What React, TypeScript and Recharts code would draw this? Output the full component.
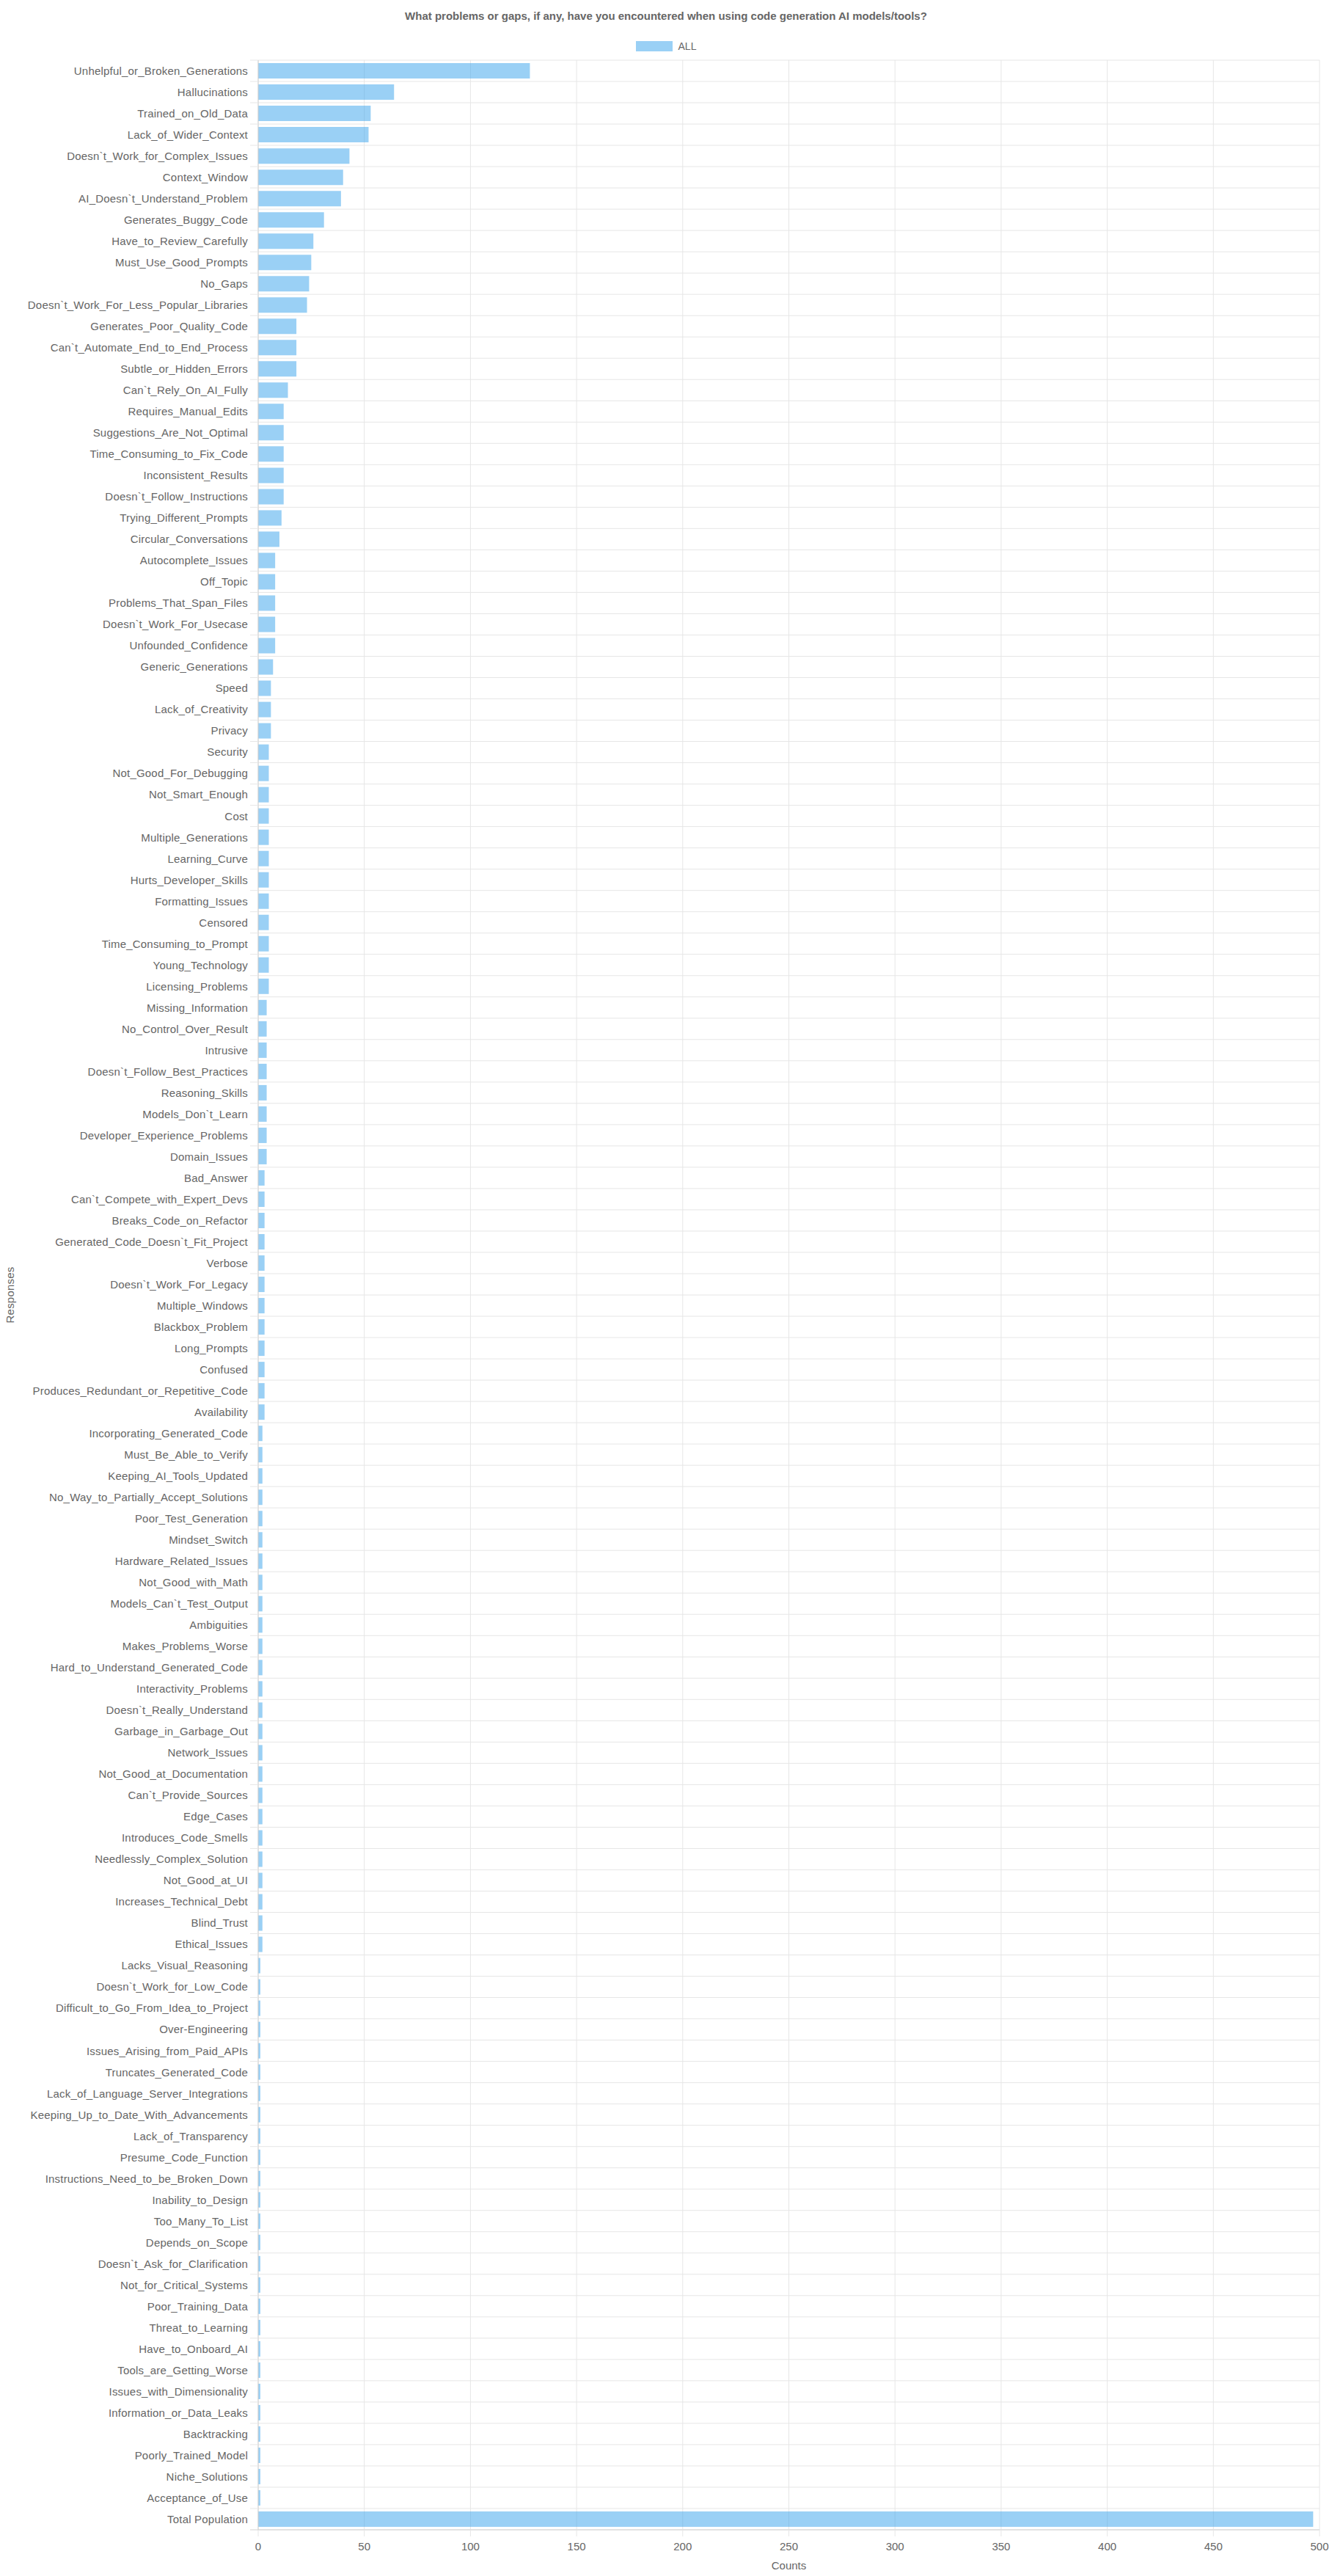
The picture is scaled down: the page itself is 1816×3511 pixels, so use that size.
import React from "react";
import {
  Bar,
  BarChart,
  CartesianGrid,
  Legend,
  XAxis,
  YAxis
} from "recharts";

const responses = [
  "Unhelpful_or_Broken_Generations",
  "Hallucinations",
  "Trained_on_Old_Data",
  "Lack_of_Wider_Context",
  "Doesn`t_Work_for_Complex_Issues",
  "Context_Window",
  "AI_Doesn`t_Understand_Problem",
  "Generates_Buggy_Code",
  "Have_to_Review_Carefully",
  "Must_Use_Good_Prompts",
  "No_Gaps",
  "Doesn`t_Work_For_Less_Popular_Libraries",
  "Generates_Poor_Quality_Code",
  "Can`t_Automate_End_to_End_Process",
  "Subtle_or_Hidden_Errors",
  "Can`t_Rely_On_AI_Fully",
  "Requires_Manual_Edits",
  "Suggestions_Are_Not_Optimal",
  "Time_Consuming_to_Fix_Code",
  "Inconsistent_Results",
  "Doesn`t_Follow_Instructions",
  "Trying_Different_Prompts",
  "Circular_Conversations",
  "Autocomplete_Issues",
  "Off_Topic",
  "Problems_That_Span_Files",
  "Doesn`t_Work_For_Usecase",
  "Unfounded_Confidence",
  "Generic_Generations",
  "Speed",
  "Lack_of_Creativity",
  "Privacy",
  "Security",
  "Not_Good_For_Debugging",
  "Not_Smart_Enough",
  "Cost",
  "Multiple_Generations",
  "Learning_Curve",
  "Hurts_Developer_Skills",
  "Formatting_Issues",
  "Censored",
  "Time_Consuming_to_Prompt",
  "Young_Technology",
  "Licensing_Problems",
  "Missing_Information",
  "No_Control_Over_Result",
  "Intrusive",
  "Doesn`t_Follow_Best_Practices",
  "Reasoning_Skills",
  "Models_Don`t_Learn",
  "Developer_Experience_Problems",
  "Domain_Issues",
  "Bad_Answer",
  "Can`t_Compete_with_Expert_Devs",
  "Breaks_Code_on_Refactor",
  "Generated_Code_Doesn`t_Fit_Project",
  "Verbose",
  "Doesn`t_Work_For_Legacy",
  "Multiple_Windows",
  "Blackbox_Problem",
  "Long_Prompts",
  "Confused",
  "Produces_Redundant_or_Repetitive_Code",
  "Availability",
  "Incorporating_Generated_Code",
  "Must_Be_Able_to_Verify",
  "Keeping_AI_Tools_Updated",
  "No_Way_to_Partially_Accept_Solutions",
  "Poor_Test_Generation",
  "Mindset_Switch",
  "Hardware_Related_Issues",
  "Not_Good_with_Math",
  "Models_Can`t_Test_Output",
  "Ambiguities",
  "Makes_Problems_Worse",
  "Hard_to_Understand_Generated_Code",
  "Interactivity_Problems",
  "Doesn`t_Really_Understand",
  "Garbage_in_Garbage_Out",
  "Network_Issues",
  "Not_Good_at_Documentation",
  "Can`t_Provide_Sources",
  "Edge_Cases",
  "Introduces_Code_Smells",
  "Needlessly_Complex_Solution",
  "Not_Good_at_UI",
  "Increases_Technical_Debt",
  "Blind_Trust",
  "Ethical_Issues",
  "Lacks_Visual_Reasoning",
  "Doesn`t_Work_for_Low_Code",
  "Difficult_to_Go_From_Idea_to_Project",
  "Over-Engineering",
  "Issues_Arising_from_Paid_APIs",
  "Truncates_Generated_Code",
  "Lack_of_Language_Server_Integrations",
  "Keeping_Up_to_Date_With_Advancements",
  "Lack_of_Transparency",
  "Presume_Code_Function",
  "Instructions_Need_to_be_Broken_Down",
  "Inability_to_Design",
  "Too_Many_To_List",
  "Depends_on_Scope",
  "Doesn`t_Ask_for_Clarification",
  "Not_for_Critical_Systems",
  "Poor_Training_Data",
  "Threat_to_Learning",
  "Have_to_Onboard_AI",
  "Tools_are_Getting_Worse",
  "Issues_with_Dimensionality",
  "Information_or_Data_Leaks",
  "Backtracking",
  "Poorly_Trained_Model",
  "Niche_Solutions",
  "Acceptance_of_Use",
  "Total Population"
];

const counts = [
  128, 64, 53, 52, 43, 40, 39, 31, 26, 25,
  24, 23, 18, 18, 18, 14, 12, 12, 12, 12,
  12, 11, 10, 8, 8, 8, 8, 8, 7, 6,
  6, 6, 5, 5, 5, 5, 5, 5, 5, 5,
  5, 5, 5, 5, 4, 4, 4, 4, 4, 4,
  4, 4, 3, 3, 3, 3, 3, 3, 3, 3,
  3, 3, 3, 3, 2, 2, 2, 2, 2, 2,
  2, 2, 2, 2, 2, 2, 2, 2, 2, 2,
  2, 2, 2, 2, 2, 2, 2, 2, 2, 1,
  1, 1, 1, 1, 1, 1, 1, 1, 1, 1,
  1, 1, 1, 1, 1, 1, 1, 1, 1, 1,
  1, 1, 1, 1, 1, 497
];

const countTicks = [0, 50, 100, 150, 200, 250, 300, 350, 400, 450, 500];

const rows = responses.map((response, i) => ({ response, ALL: counts[i] }));

const FONT = '"Liberation Sans", Arial, Helvetica, sans-serif';
const TEXT = "#666";
const GRID = "#e6e6e6";
const BORDER = "#d2d2d2";
const BLUE = "#36a2eb";

const W = 1816;
const H = 3511;

// chart.js style grid: horizontal lines sit between categories, not at them
const boundaryLines = ({ offset }: any) => {
  const n = responses.length;
  const lines: number[] = [];
  for (let i = 0; i <= n; i++) lines.push(offset.top + (offset.height * i) / n);
  return lines;
};

function ResponseTick(props: any) {
  const { x, y, payload, index } = props;
  const half = payload.offset ?? 0;
  const last = index === responses.length - 1;
  return (
    <g>
      <line x1={x + 3} x2={x + 14} y1={y - half} y2={y - half} stroke={GRID} />
      {last && <line x1={x + 3} x2={x + 14} y1={y + half} y2={y + half} stroke={BORDER} />}
      <text
        x={x}
        y={y}
        dy="0.36em"
        textAnchor="end"
        fill={TEXT}
        fontSize={15}
        letterSpacing={0.2}
        fontFamily={FONT}
      >
        {payload.value}
      </text>
    </g>
  );
}

function ResponsesLabel({ viewBox }: any) {
  const cx = viewBox.x + 13;
  const cy = viewBox.y + viewBox.height / 2;
  return (
    <text
      x={cx}
      y={cy}
      transform={`rotate(-90 ${cx} ${cy})`}
      textAnchor="middle"
      dominantBaseline="central"
      fill={TEXT}
      fontSize={15}
      letterSpacing={0.2}
      fontFamily={FONT}
    >
      Responses
    </text>
  );
}

function LegendBox({ payload }: any) {
  return (
    <div style={{ display: "flex", justifyContent: "center", alignItems: "center", gap: 8 }}>
      {(payload || []).map((item: any) => (
        <div key={item.value} style={{ display: "flex", alignItems: "center", gap: 8 }}>
          <span
            style={{
              width: 50,
              height: 14,
              background: "rgba(54,162,235,0.5)",
              display: "inline-block"
            }}
          />
          <span style={{ color: TEXT, fontSize: 14, fontFamily: FONT, lineHeight: "14px" }}>{item.value}</span>
        </div>
      ))}
    </div>
  );
}

export default function App() {
  return (
    <div
      style={{
        position: "absolute",
        top: 0,
        left: 0,
        width: W,
        height: H,
        overflow: "hidden",
        background: "#fff",
        fontFamily: FONT
      }}
    >
      <div
        style={{
          position: "absolute",
          top: 14,
          left: 0,
          width: W,
          textAlign: "center",
          fontWeight: "bold",
          fontSize: 15,
          lineHeight: "16px",
          color: TEXT,
          zIndex: 1
        }}
      >
        What problems or gaps, if any, have you encountered when using code generation AI models/tools?
      </div>
      <BarChart
        width={W}
        height={H}
        data={rows}
        layout="vertical"
        margin={{ top: 82, right: 17, bottom: 0, left: 0 }}
        barCategoryGap="14%"
      >
        <CartesianGrid stroke={GRID} horizontalCoordinatesGenerator={boundaryLines} />
        <XAxis
          type="number"
          domain={[0, 500]}
          ticks={countTicks}
          interval={0}
          height={63}
          tickSize={9}
          tickMargin={8}
          tickLine={{ stroke: GRID }}
          axisLine={{ stroke: BORDER }}
          tick={{ fill: TEXT, fontSize: 15, fontFamily: FONT }}
          label={{ value: "Counts", position: "insideBottom", offset: 9, fill: TEXT, fontSize: 15, fontFamily: FONT }}
        />
        <YAxis
          type="category"
          dataKey="response"
          width={352}
          interval={0}
          tickSize={11}
          tickMargin={3}
          tickLine={false}
          axisLine={{ stroke: BORDER }}
          tick={<ResponseTick />}
          label={<ResponsesLabel />}
        />
        <Legend
          layout="horizontal"
          verticalAlign="middle"
          align="center"
          content={<LegendBox />}
          wrapperStyle={{ top: 56, left: 0, width: W }}
        />
        <Bar dataKey="ALL" fill={BLUE} fillOpacity={0.5} isAnimationActive={false} />
      </BarChart>
    </div>
  );
}
